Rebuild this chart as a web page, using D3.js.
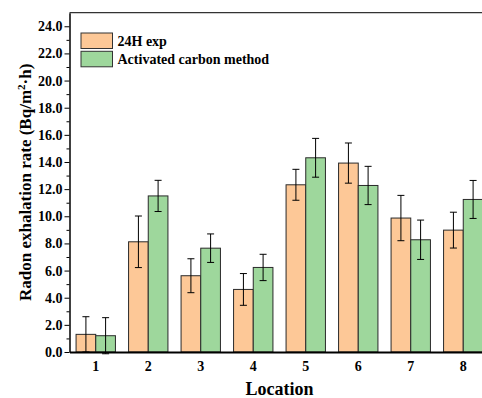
<!DOCTYPE html>
<html>
<head>
<meta charset="utf-8">
<script src="https://cdn.jsdelivr.net/npm/d3@7"></script>
<style>
  body { margin: 0; background: #fff; }
  svg text { font-family: "Liberation Serif", "Times New Roman", serif; font-weight: bold; }
</style>
</head>
<body>
<div id="chart"></div>
<script>
// chart values
var locations = ["1", "2", "3", "4", "5", "6", "7", "8"];
var seriesNames = ["24H exp", "Activated carbon method"];
var exp24 = [1.30, 8.12, 5.62, 4.61, 12.32, 13.92, 9.87, 8.98];
var exp24Err = [1.30, 1.90, 1.25, 1.17, 1.14, 1.48, 1.67, 1.32];
var carbon = [1.20, 11.50, 7.65, 6.23, 14.31, 12.27, 8.27, 11.24];
var carbonErr = [1.33, 1.15, 1.05, 0.97, 1.43, 1.41, 1.45, 1.40];
var yTicks = [0, 2, 4, 6, 8, 10, 12, 14, 16, 18, 20, 22, 24];
var yMinor = [1, 3, 5, 7, 9, 11, 13, 15, 17, 19, 21, 23];

var colors = ["#fdc897", "#9ed79c"];

var width = 482, height = 398;
// plot box (the right side runs past the window, as in the picture)
var plotLeft = 69.5, plotRight = 489.5, plotTop = 12.7, plotBottom = 352;

var data = [];
locations.forEach(function(loc, i) {
  data.push({loc: loc, series: seriesNames[0], value: exp24[i], err: exp24Err[i]});
  data.push({loc: loc, series: seriesNames[1], value: carbon[i], err: carbonErr[i]});
});

var svg = d3.select("#chart").append("svg")
  .attr("width", width)
  .attr("height", height);

var x = d3.scaleBand()
  .domain(locations)
  .range([plotLeft, plotRight])
  .paddingInner(0.25)
  .paddingOuter(0.125);

var x1 = d3.scaleBand()
  .domain(seriesNames)
  .range([0, x.bandwidth()]);

var y = d3.scaleLinear()
  .domain([0, 25])
  .range([plotBottom, plotTop]);

var color = d3.scaleOrdinal().domain(seriesNames).range(colors);

// top frame line
svg.append("line")
  .attr("x1", plotLeft).attr("x2", plotRight)
  .attr("y1", plotTop).attr("y2", plotTop)
  .attr("stroke", "#333").attr("stroke-width", 1.2);

// bars
var bar = svg.selectAll(".bar")
  .data(data)
  .enter().append("g")
  .attr("class", "bar")
  .attr("transform", function(d) { return "translate(" + (x(d.loc) + x1(d.series)) + ",0)"; });

bar.append("rect")
  .attr("x", 0)
  .attr("width", x1.bandwidth())
  .attr("y", function(d) { return y(d.value); })
  .attr("height", function(d) { return y(0) - y(d.value); })
  .attr("fill", function(d) { return color(d.series); })
  .attr("stroke", "#2a2a2a")
  .attr("stroke-width", 1);

// error bars
var cx = x1.bandwidth() / 2, cap = 3.5;
bar.append("line")
  .attr("x1", cx).attr("x2", cx)
  .attr("y1", function(d) { return y(d.value + d.err); })
  .attr("y2", function(d) { return y(d.value - d.err); })
  .attr("stroke", "#000").attr("stroke-width", 1);
bar.append("line")
  .attr("x1", cx - cap).attr("x2", cx + cap)
  .attr("y1", function(d) { return y(d.value + d.err); })
  .attr("y2", function(d) { return y(d.value + d.err); })
  .attr("stroke", "#000").attr("stroke-width", 1);
bar.append("line")
  .attr("x1", cx - cap).attr("x2", cx + cap)
  .attr("y1", function(d) { return y(d.value - d.err); })
  .attr("y2", function(d) { return y(d.value - d.err); })
  .attr("stroke", "#000").attr("stroke-width", 1);

// y axis minor ticks
svg.append("g")
  .attr("transform", "translate(" + plotLeft + ",0)")
  .call(d3.axisLeft(y).tickValues(yMinor).tickSize(3).tickFormat(""))
  .call(function(g) { g.select(".domain").remove(); });

// y axis
var yAxis = svg.append("g")
  .attr("transform", "translate(" + plotLeft + ",0)")
  .call(d3.axisLeft(y).tickValues(yTicks).tickSize(5).tickSizeOuter(0).tickPadding(2).tickFormat(d3.format(".1f")));
yAxis.selectAll("text").attr("font-size", 14).attr("fill", "#000");
yAxis.select(".domain").attr("stroke-width", 1.5);

// x axis
var xAxis = svg.append("g")
  .attr("transform", "translate(0," + plotBottom + ")")
  .call(d3.axisBottom(x).tickSize(0).tickSizeOuter(0).tickPadding(9));
xAxis.selectAll("text").attr("font-size", 14).attr("fill", "#000");
xAxis.select(".domain").attr("stroke-width", 2.2);

// axis titles
var yTitle = svg.append("text")
  .attr("transform", "translate(31," + ((plotTop + plotBottom) / 2) + ") rotate(-90)")
  .attr("text-anchor", "middle")
  .attr("font-size", 17);
yTitle.append("tspan").text("Radon exhalation rate (Bq/m");
yTitle.append("tspan").attr("baseline-shift", "super").attr("font-size", 11).text("2");
yTitle.append("tspan").text("·h)");

svg.append("text")
  .attr("x", (plotLeft + plotRight) / 2)
  .attr("y", 395)
  .attr("text-anchor", "middle")
  .attr("font-size", 18)
  .text("Location");

// legend
var legend = svg.selectAll(".legend")
  .data(seriesNames)
  .enter().append("g")
  .attr("class", "legend")
  .attr("transform", function(d, i) { return "translate(81," + (33 + i * 18.3) + ")"; });

legend.append("rect")
  .attr("width", 31.5)
  .attr("height", 15.5)
  .attr("fill", function(d) { return color(d); })
  .attr("stroke", "#333")
  .attr("stroke-width", 1);

legend.append("text")
  .attr("x", 36.5)
  .attr("y", 13)
  .attr("font-size", 14)
  .text(function(d) { return d; });
</script>
</body>
</html>
